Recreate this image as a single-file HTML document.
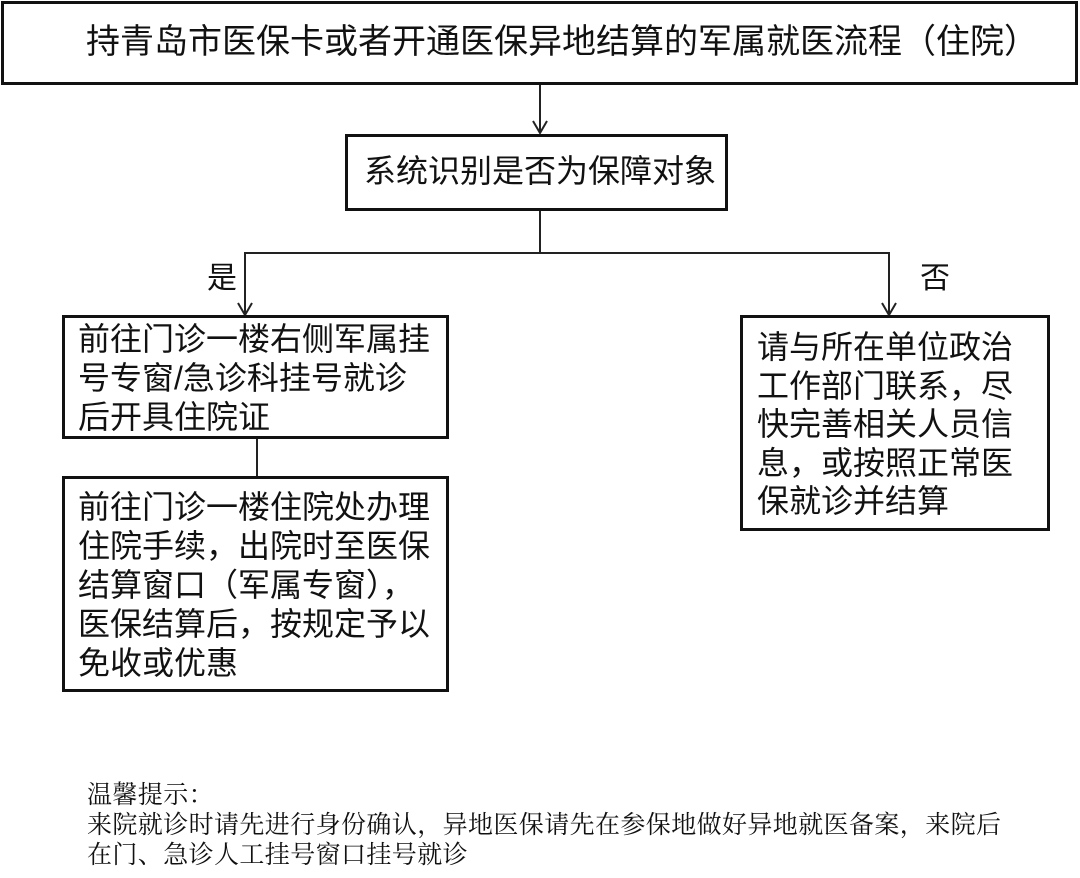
<!DOCTYPE html>
<html><head><meta charset="utf-8"><style>
body{margin:0;width:1080px;height:878px;background:#fff;position:relative;overflow:hidden;font-family:"Liberation Sans","Noto Sans CJK SC",sans-serif;color:#111}
.b{position:absolute;border:3px solid #111;box-sizing:border-box;background:#fff}
.t{position:absolute;white-space:nowrap}
.l{position:absolute;background:#222}
</style></head><body>
<div class="b" style="left:1px;top:1px;width:1077px;height:84px"></div>
<div class="t" style="left:86px;top:22px;font-size:34px;line-height:40px;letter-spacing:0px">持青岛市医保卡或者开通医保异地结算的军属就医流程（住院）</div>

<div class="l" style="left:539px;top:85px;width:2px;height:48px"></div>
<div class="b" style="left:345px;top:134px;width:383px;height:77px"></div>
<div class="t" style="left:364px;top:152px;font-size:32px;line-height:38px">系统识别是否为保障对象</div>

<div class="l" style="left:539px;top:211px;width:2px;height:43px"></div>
<div class="l" style="left:244px;top:252px;width:646px;height:2px"></div>
<div class="l" style="left:244px;top:252px;width:2px;height:63px"></div>
<div class="l" style="left:888px;top:252px;width:2px;height:63px"></div>
<svg style="position:absolute;left:0;top:0" width="1080" height="878">
<g stroke="#222" stroke-width="2" fill="none">
<polyline points="533,121 540,133 547,121"/>
<polyline points="238,303 245,315 252,303"/>
<polyline points="882,303 889,315 896,303"/>
</g></svg>
<div class="t" style="left:207px;top:262px;font-size:30px;line-height:34px">是</div>
<div class="t" style="left:920px;top:262px;font-size:30px;line-height:34px">否</div>

<div class="b" style="left:62px;top:315px;width:387px;height:124px"></div>
<div class="t" style="left:78px;top:320px;font-size:32px;line-height:39px">前往门诊一楼右侧军属挂<br>号专窗/急诊科挂号就诊<br>后开具住院证</div>
<div class="l" style="left:256px;top:439px;width:2px;height:38px"></div>
<div class="b" style="left:62px;top:476px;width:387px;height:216px"></div>
<div class="t" style="left:78px;top:488px;font-size:32px;line-height:39px">前往门诊一楼住院处办理<br>住院手续，出院时至医保<br>结算窗口（军属专窗），<br>医保结算后，按规定予以<br>免收或优惠</div>

<div class="b" style="left:740px;top:315px;width:310px;height:216px"></div>
<div class="t" style="left:757px;top:328px;font-size:32px;line-height:38.5px">请与所在单位政治<br>工作部门联系，尽<br>快完善相关人员信<br>息，或按照正常医<br>保就诊并结算</div>

<div class="t" style="left:87px;top:781px;font-size:25px;line-height:30px;letter-spacing:0.4px;font-family:'Liberation Serif','Noto Serif CJK SC',serif">温馨提示：<br>来院就诊时请先进行身份确认，异地医保请先在参保地做好异地就医备案，来院后<br>在门、急诊人工挂号窗口挂号就诊</div>
</body></html>
